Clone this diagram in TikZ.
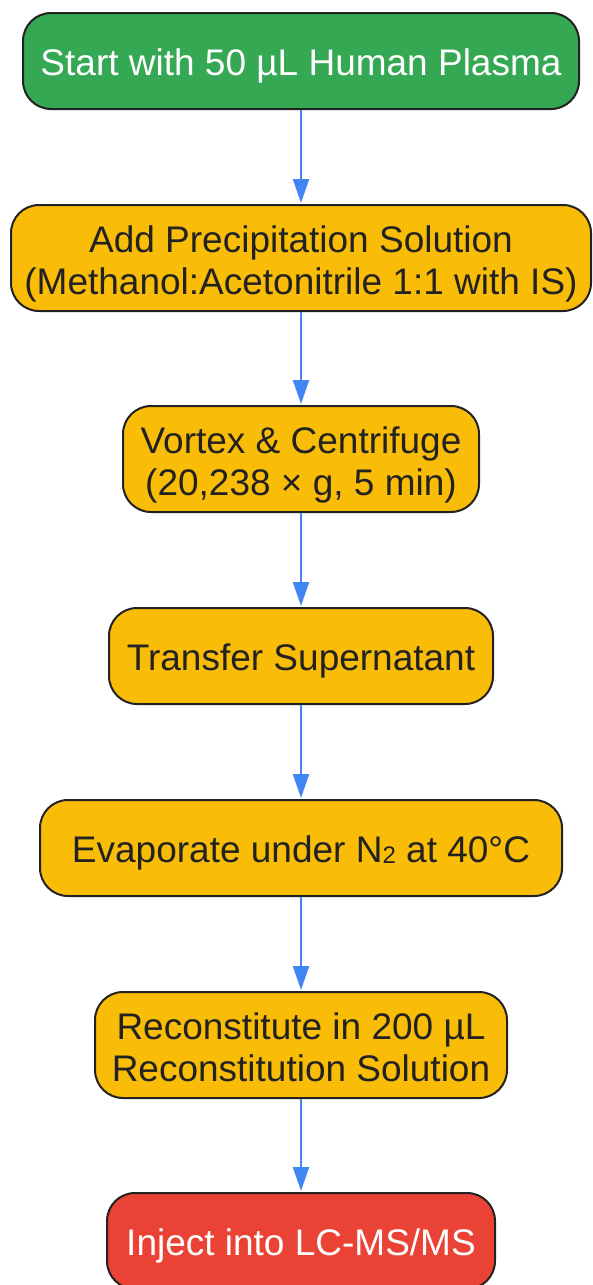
\documentclass[tikz,border=0pt]{standalone}
\usepackage{fontspec}
\setmainfont{Liberation Sans}
\usetikzlibrary{arrows.meta}
\definecolor{gstart}{HTML}{34A853}
\definecolor{ystep}{HTML}{F9BC07}
\definecolor{rend}{HTML}{EA4335}
\definecolor{edgeblue}{HTML}{4285F4}
\definecolor{bord}{HTML}{222222}
\definecolor{txt}{HTML}{222222}
\tikzset{
  box/.style={draw=bord, line width=2pt, rounded corners=28pt, inner sep=0pt, fill=ystep},
  greenbox/.style={box, fill=gstart},
  redbox/.style={box, fill=rend},
  lbl/.style={align=center, inner sep=0pt, font=\fontsize{37}{42}\selectfont, text=txt},
  wlbl/.style={lbl, text=white},
  flow/.style={draw=edgeblue, line width=2.2pt, -{Triangle[length=24pt,width=16pt]}, shorten >=1pt}
}
\begin{document}
\begin{tikzpicture}[x=1pt,y=-1pt]
\useasboundingbox (0,0) rectangle (592,1285);
\node[greenbox, minimum width=556pt, minimum height=96pt] (s) at (301,61) {};
\node[wlbl, yshift=-5pt] (sT) at (s.center) {Start with 50 µL Human Plasma};
\node[box, minimum width=580pt, minimum height=106pt] (a) at (301,258) {};
\node[lbl, yshift=-6pt] (aT) at (a.center) {Add Precipitation Solution\\(Methanol:Acetonitrile 1:1 with IS)};
\node[box, minimum width=356pt, minimum height=106pt] (v) at (301,459) {};
\node[lbl, yshift=-6pt] (vT) at (v.center) {Vortex \& Centrifuge\\(20,238 × g, 5 min)};
\node[box, minimum width=384pt, minimum height=96pt] (t) at (301,656) {};
\node[lbl, yshift=-5pt] (tT) at (t.center) {Transfer Supernatant};
\node[box, minimum width=522pt, minimum height=96pt] (e) at (301,848) {};
\node[lbl, yshift=-5pt] (eT) at (e.center) {Evaporate under N\raisebox{-1pt}{\fontsize{24}{24}\selectfont 2} at 40°C};
\node[box, minimum width=412pt, minimum height=106pt] (r) at (301,1045) {};
\node[lbl, yshift=-6pt] (rT) at (r.center) {Reconstitute in 200 µL\\Reconstitution Solution\vphantom{(}};
\node[redbox, minimum width=388pt, minimum height=96pt] (i) at (301,1241) {};
\node[wlbl, yshift=-5pt] (iT) at (i.center) {Inject into LC-MS/MS};
\draw[flow] (s.south) -- (a.north);
\draw[flow] (a.south) -- (v.north);
\draw[flow] (v.south) -- (t.north);
\draw[flow] (t.south) -- (e.north);
\draw[flow] (e.south) -- (r.north);
\draw[flow] (r.south) -- (i.north);
\end{tikzpicture}
\end{document}
